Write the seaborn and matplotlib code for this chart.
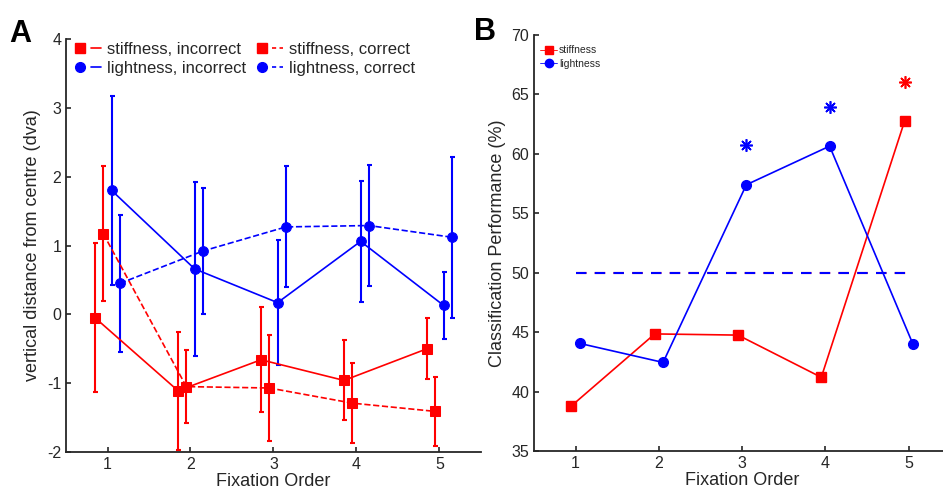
import matplotlib
matplotlib.use("Agg")
import matplotlib.pyplot as plt
import numpy as np
import pandas as pd
import seaborn as sns
from matplotlib.lines import Line2D
from matplotlib.legend_handler import HandlerTuple

# ---- data: panel A (vertical distance, mean +/- error) ----
fix_order = np.array([1, 2, 3, 4, 5])

stiff_incorrect = [-0.05, -1.11, -0.66, -0.96, -0.50]
stiff_incorrect_err = [1.08, 0.86, 0.76, 0.58, 0.44]
stiff_correct = [1.17, -1.05, -1.07, -1.29, -1.41]
stiff_correct_err = [0.98, 0.53, 0.77, 0.58, 0.50]
light_incorrect = [1.80, 0.66, 0.17, 1.06, 0.13]
light_incorrect_err = [1.37, 1.26, 0.91, 0.88, 0.49]
light_correct = [0.45, 0.92, 1.27, 1.29, 1.12]
light_correct_err = [1.00, 0.92, 0.88, 0.88, 1.17]

# ---- data: panel B (classification performance) ----
perf_stiffness = [38.8, 44.85, 44.75, 41.2, 62.75]
perf_lightness = [44.05, 42.45, 57.4, 60.65, 44.0]
chance_x = [1, 5]
chance_y = [50, 50]
signif_light_x = [3, 4]
signif_light_y = [60.75, 63.95]
signif_stiff_x = [5]
signif_stiff_y = [66.05]

RED = "#ff0000"
BLUE = "#0000ff"
TXT = "#262626"

sns.set_style("ticks")
plt.rcParams["font.family"] = ["Liberation Sans", "DejaVu Sans"]
plt.rcParams["axes.unicode_minus"] = False
plt.rcParams["axes.edgecolor"] = TXT
plt.rcParams["xtick.color"] = TXT
plt.rcParams["ytick.color"] = TXT
plt.rcParams["text.color"] = TXT
plt.rcParams["axes.labelcolor"] = TXT

fig = plt.figure(figsize=(9.43, 4.91), dpi=100)
axA = fig.add_axes([0.070, 0.0794, 0.440, 0.8412])
axB = fig.add_axes([0.5663, 0.0815, 0.4415, 0.8472])

# ---- panel A ----
seriesA = [
    (stiff_incorrect, stiff_incorrect_err, -0.15, RED, "s", "-"),
    (stiff_correct, stiff_correct_err, -0.05, RED, "s", "--"),
    (light_incorrect, light_incorrect_err, 0.05, BLUE, "o", "-"),
    (light_correct, light_correct_err, 0.15, BLUE, "o", "--"),
]
for vals, err, off, col, mk, ls in seriesA:
    xs = fix_order + off
    axA.errorbar(xs, vals, yerr=err, fmt="none", ecolor=col,
                 elinewidth=1.5, capsize=1.8, capthick=1.5, zorder=2)
    df = pd.DataFrame({"x": xs, "y": vals})
    sns.lineplot(data=df, x="x", y="y", ax=axA, color=col, marker=mk,
                 linestyle=ls, linewidth=1.2, markersize=7,
                 markeredgecolor=col, markerfacecolor=col, zorder=3)

axA.set_xlim(0.5, 5.5)
axA.set_ylim(-2, 4)
axA.set_xticks(fix_order)
axA.set_yticks([-2, -1, 0, 1, 2, 3, 4])
axA.set_xlabel("Fixation Order", fontsize=13, labelpad=1)
axA.set_ylabel("vertical distance from centre (dva)", fontsize=13, labelpad=4)
axA.tick_params(labelsize=11.5, length=3.5, width=1.2, direction="in")
for s in ["top", "right"]:
    axA.spines[s].set_visible(False)
for s in ["left", "bottom"]:
    axA.spines[s].set_linewidth(1.3)


def mk_handle(col, mk, ls):
    m = Line2D([], [], color=col, marker=mk, linestyle="none", markersize=7)
    if ls == "--":
        l = Line2D([], [], color=col, linestyle="--", linewidth=1.2)
        l.set_dashes((2.5, 2.0))
    else:
        l = Line2D([], [], color=col, linestyle="-", linewidth=1.2)
    return (m, l)


handles = [mk_handle(RED, "s", "-"), mk_handle(BLUE, "o", "-"),
           mk_handle(RED, "s", "--"), mk_handle(BLUE, "o", "--")]
labels = ["stiffness, incorrect", "lightness, incorrect",
          "stiffness, correct", "lightness, correct"]
axA.legend(handles, labels, ncol=2, loc="upper left",
           bbox_to_anchor=(0.005, 1.01), frameon=False, fontsize=12,
           handler_map={tuple: HandlerTuple(ndivide=None, pad=0.3)},
           handlelength=1.6, handletextpad=0.35, columnspacing=0.6,
           labelspacing=0.25, borderaxespad=0.2, borderpad=0.2)

# ---- panel B ----
sns.lineplot(x=chance_x, y=chance_y, ax=axB, color=RED, linestyle="--",
             linewidth=1.5, zorder=1)
sns.lineplot(x=chance_x, y=chance_y, ax=axB, color=BLUE, linestyle="--",
             linewidth=1.5, zorder=1)
axB.lines[0].set_dashes((5, 4))
axB.lines[-1].set_dashes((5, 4))
axB.lines[-1].set_xdata([1, 4.95])

axB.plot(fix_order - 0.05, perf_stiffness, color=RED, marker="s",
         linewidth=1.2, markersize=7, zorder=3)
axB.plot(fix_order + 0.05, perf_lightness, color=BLUE, marker="o",
         linewidth=1.2, markersize=7, zorder=3)

ast = (8, 2, 0)
axB.plot(np.array(signif_light_x) + 0.05, signif_light_y, linestyle="none",
         marker=ast, markersize=9, markeredgewidth=1.2, color=BLUE)
axB.plot(np.array(signif_stiff_x) - 0.05, signif_stiff_y, linestyle="none",
         marker=ast, markersize=9, markeredgewidth=1.2, color=RED)

axB.set_xlim(0.5, 5.5)
axB.set_ylim(35, 70)
axB.set_xticks(fix_order)
axB.set_yticks([35, 40, 45, 50, 55, 60, 65, 70])
axB.set_xlabel("Fixation Order", fontsize=13, labelpad=1)
axB.set_ylabel("Classification Performance (%)", fontsize=13, labelpad=4)
axB.tick_params(labelsize=11.5, length=3.5, width=1.2, direction="in")
for s in ["top", "right"]:
    axB.spines[s].set_visible(False)
for s in ["left", "bottom"]:
    axB.spines[s].set_linewidth(1.3)

hs = Line2D([], [], color=RED, marker="s", linewidth=0.6, markersize=6)
hl = Line2D([], [], color=BLUE, marker="o", linewidth=0.6, markersize=6)
axB.legend([hs, hl], ["stiffness", "lightness"], loc="upper left",
           bbox_to_anchor=(0.0, 0.99), frameon=False, fontsize=7.5,
           handlelength=1.6, handletextpad=0.2, labelspacing=0.3,
           borderaxespad=0.2)

# panel letters
fig.text(0.010, 0.915, "A", fontsize=22, fontweight="bold", color="black")
fig.text(0.503, 0.918, "B", fontsize=22, fontweight="bold", color="black")

fig.savefig("out.png", dpi=100)
